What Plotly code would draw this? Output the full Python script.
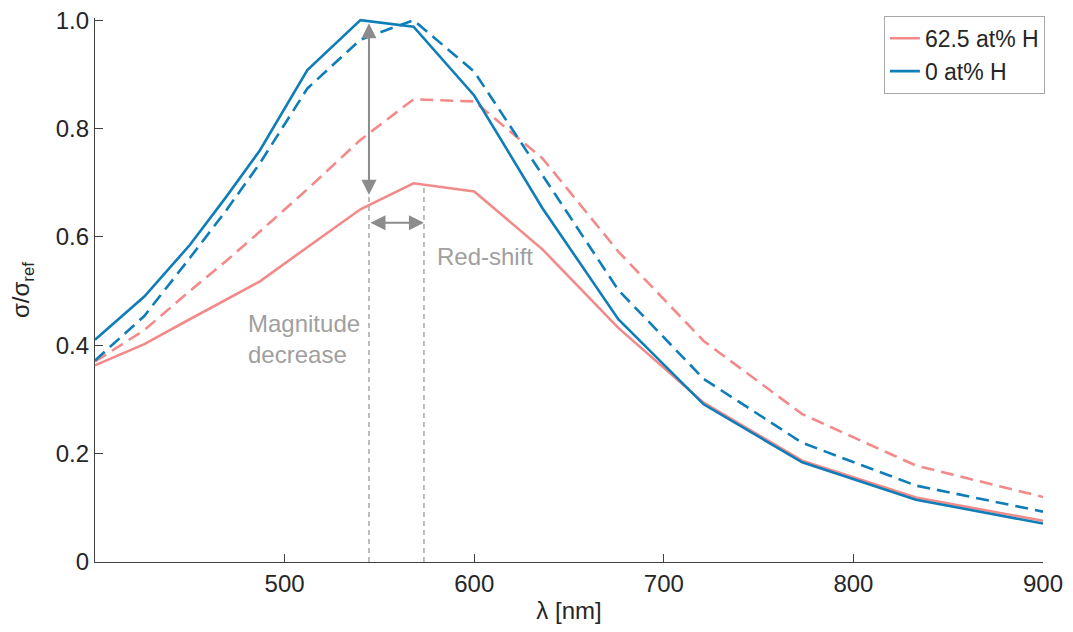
import plotly.graph_objects as go

# wavelength grid (nm), shared by all four curves
wavelength = [400, 426, 450, 469, 487, 512, 540, 568, 600, 636, 676, 721, 773, 833, 900]

# normalised cross-section sigma/sigma_ref
h62_solid = [0.363, 0.402, 0.448, 0.484, 0.518, 0.581, 0.651, 0.699, 0.684, 0.577, 0.432, 0.294, 0.187, 0.119, 0.076]
h62_dash = [0.370, 0.428, 0.500, 0.555, 0.610, 0.688, 0.779, 0.854, 0.850, 0.745, 0.573, 0.408, 0.273, 0.178, 0.120]
h0_solid = [0.410, 0.490, 0.585, 0.673, 0.760, 0.908, 1.000, 0.988, 0.861, 0.653, 0.448, 0.291, 0.184, 0.115, 0.071]
h0_dash = [0.372, 0.454, 0.561, 0.648, 0.736, 0.874, 0.964, 1.000, 0.905, 0.715, 0.502, 0.338, 0.220, 0.141, 0.093]

labels = ["62.5 at% H", "0 at% H"]

PINK = "#F28A8A"
BLUE = "#0F7DB8"
GREY = "#8C8C8C"
FONT = "Liberation Sans, Arial, sans-serif"
TXT = "#262626"

# annotation anchors
peak_left, peak_right = 544.5, 573.5
mag_top, mag_bot = 0.997, 0.678
shift_y = 0.626

fig = go.Figure()
for ys, col, dash, name, show in [
    (h62_dash, PINK, "13px,7px", labels[0], False),
    (h0_dash, BLUE, "13px,7px", labels[1], False),
    (h62_solid, PINK, "solid", labels[0], True),
    (h0_solid, BLUE, "solid", labels[1], True),
]:
    fig.add_trace(go.Scatter(
        x=wavelength, y=ys, mode="lines", name=name, showlegend=show,
        line=dict(color=col, width=2.6, dash=dash),
    ))

# guide lines
fig.add_shape(type="line", x0=peak_left, x1=peak_left, y0=0, y1=mag_bot,
              line=dict(color="#A8A8A8", width=1.5, dash="5px,4px"))
fig.add_shape(type="line", x0=peak_right, x1=peak_right, y0=0, y1=0.697,
              line=dict(color="#A8A8A8", width=1.5, dash="5px,4px"))

# double-headed arrows
arrow = dict(xref="x", yref="y", axref="x", ayref="y", text="", showarrow=True,
             arrowhead=2, startarrowhead=2, arrowside="end+start",
             arrowsize=1.5, startarrowsize=1.5, arrowwidth=2, arrowcolor=GREY)
fig.add_annotation(x=peak_left, y=mag_bot, ax=peak_left, ay=mag_top, **arrow)
fig.add_annotation(x=peak_right, y=shift_y, ax=peak_left, ay=shift_y, **arrow)

fig.add_annotation(x=579.5, y=0.564, text="Red-shift", showarrow=False,
                   xanchor="left", yanchor="middle",
                   font=dict(family=FONT, size=24, color="#A0A0A0"))
fig.add_annotation(x=479.5, y=0.411, text="Magnitude<br>decrease", showarrow=False,
                   xanchor="left", yanchor="middle", align="left",
                   font=dict(family=FONT, size=24, color="#A0A0A0"))

# y title as a free annotation so it can sit further left
fig.add_annotation(xref="paper", yref="paper", x=-0.077, y=0.5, textangle=-90,
                   text="σ/σ<sub>ref</sub>", showarrow=False,
                   xanchor="center", yanchor="middle",
                   font=dict(family=FONT, size=24, color=TXT))

axis_style = dict(showgrid=False, zeroline=False, showline=True, linecolor="#404040",
                  linewidth=1.2, ticks="inside", ticklen=8, tickcolor="#404040",
                  ticklabeloverflow="allow", automargin=False,
                  tickfont=dict(family=FONT, size=24, color=TXT), mirror=False)

fig.update_xaxes(range=[400, 900], tickvals=[500, 600, 700, 800, 900],
                 title=dict(text="λ [nm]", font=dict(family=FONT, size=24, color=TXT),
                            standoff=6),
                 **axis_style)
fig.update_yaxes(range=[0, 1.004], tickvals=[0, 0.2, 0.4, 0.6, 0.8, 1.0],
                 ticktext=["0", "0.2", "0.4", "0.6", "0.8", "1.0"],
                 **axis_style)

# page body adds an 8px offset, so the figure is 8px smaller and margins shifted
fig.update_layout(
    width=1065, height=624,
    margin=dict(l=87, r=30, t=8, b=70),
    plot_bgcolor="white", paper_bgcolor="white",
    font=dict(family=FONT, size=24, color=TXT),
    legend=dict(x=1.002, y=1.004, xanchor="right", yanchor="top",
                bordercolor="#A8A8A8", borderwidth=1, bgcolor="white",
                font=dict(family=FONT, size=23, color=TXT),
                itemwidth=30, tracegroupgap=0),
)

fig.write_html("out.html")
